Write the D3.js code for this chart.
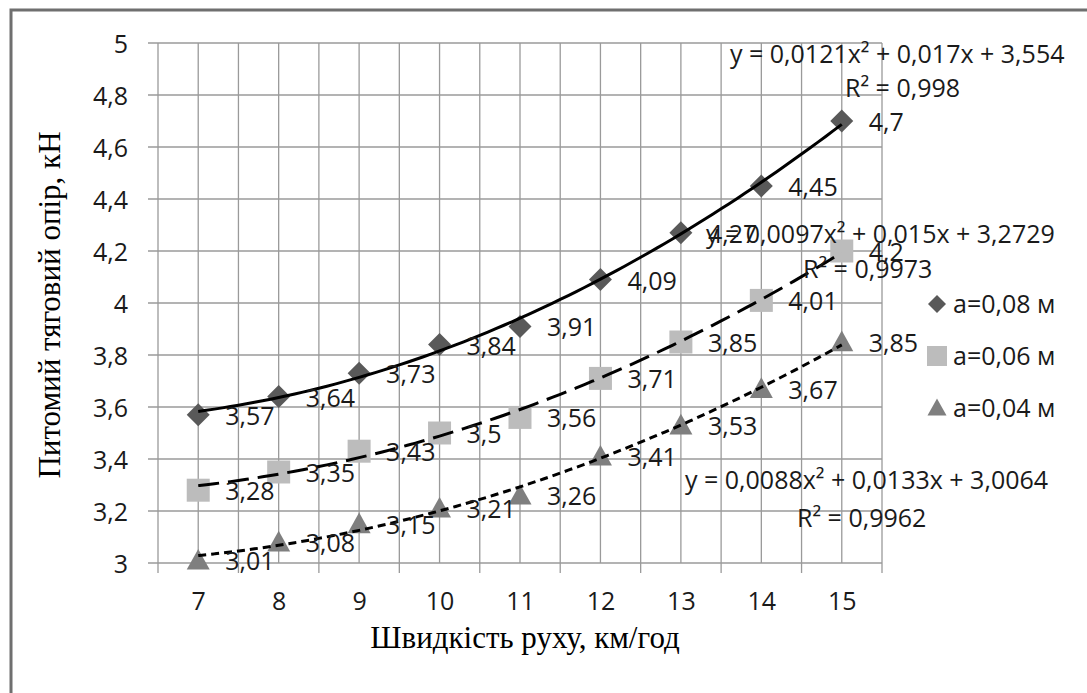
<!DOCTYPE html>
<html>
<head>
<meta charset="utf-8">
<script src="https://cdn.jsdelivr.net/npm/d3@7"></script>
<style>
  html, body { margin: 0; padding: 0; background: #fff; }
  svg { display: block; }
  .lbl { font-family: "Liberation Sans Narrow", "Open Sans", sans-serif; font-size: 25px; fill: #1a1a1a; }
  .ttl { font-family: "Liberation Serif", "Times New Roman", serif; font-size: 31px; fill: #000; }
</style>
</head>
<body>
<svg id="chart" width="1087" height="693"></svg>
<script>
// Speed categories, km/h
const speeds = [7, 8, 9, 10, 11, 12, 13, 14, 15];
// Specific draft resistance, kN, for each working depth
const resist008 = [3.57, 3.64, 3.73, 3.84, 3.91, 4.09, 4.27, 4.45, 4.7];
const resist006 = [3.28, 3.35, 3.43, 3.5, 3.56, 3.71, 3.85, 4.01, 4.2];
const resist004 = [3.01, 3.08, 3.15, 3.21, 3.26, 3.41, 3.53, 3.67, 3.85];
const seriesNames = ["a=0,08 м", "a=0,06 м", "a=0,04 м"];
// Quadratic trend coefficients (x = category index 1..9)
const trend008 = [0.0121, 0.017, 3.554];
const trend006 = [0.0097, 0.015, 3.2729];
const trend004 = [0.0088, 0.0133, 3.0064];
const eqTexts = ["y = 0,0121x² + 0,017x + 3,554", "y = 0,0097x² + 0,015x + 3,2729", "y = 0,0088x² + 0,0133x + 3,0064"];
const r2Texts = ["R² = 0,998", "R² = 0,9973", "R² = 0,9962"];
const yTicks = [3, 3.2, 3.4, 3.6, 3.8, 4, 4.2, 4.4, 4.6, 4.8, 5];

const svg = d3.select("#chart");
const fmt = v => String(v).replace(".", ",");

// outer frame
svg.append("path").attr("d", "M11,693 V10 H1087")
  .attr("fill", "none").attr("stroke", "#6f6f6f").attr("stroke-width", 3);

const x = d3.scaleLinear().domain([6.5, 15.5]).range([158, 882]);
const y = d3.scaleLinear().domain([3, 5]).range([563, 43]);

// gridlines
const grid = svg.append("g");
grid.selectAll("line.h").data(yTicks).join("line")
  .attr("x1", x(6.5) - 10).attr("x2", x(15.5))
  .attr("y1", d => y(d)).attr("y2", d => y(d))
  .attr("stroke", "#9a9a9a").attr("stroke-width", 1.3);
grid.selectAll("line.v").data(d3.range(6.5, 15.6, 0.5)).join("line")
  .attr("x1", d => x(d)).attr("x2", d => x(d))
  .attr("y1", y(5)).attr("y2", d => (d % 1 === 0.5) ? y(3) + 10 : y(3))
  .attr("stroke", "#9a9a9a").attr("stroke-width", 1.3);

// axis tick labels
const yAxis = d3.axisLeft(y).tickValues(yTicks).tickFormat(fmt).tickSize(0).tickPadding(30);
svg.append("g").attr("transform", `translate(${x(6.5)},0)`).call(yAxis)
  .call(g => g.select(".domain").remove())
  .selectAll("text").attr("class", "lbl").attr("dy", "0.36em");
const xAxis = d3.axisBottom(x).tickValues(speeds).tickFormat(d => d).tickSize(0).tickPadding(29);
svg.append("g").attr("transform", `translate(0,${y(3)})`).call(xAxis)
  .call(g => g.select(".domain").remove())
  .selectAll("text").attr("class", "lbl");

// axis titles
svg.append("text").attr("class", "ttl").attr("text-anchor", "middle")
  .attr("transform", `translate(60,305) rotate(-90)`).text("Питомий тяговий опір, кН");
svg.append("text").attr("class", "ttl").attr("text-anchor", "middle")
  .attr("x", 525).attr("y", 648).text("Швидкість руху, км/год");

// marker shapes as in the spreadsheet: square-rotated diamond, square, triangle
const diamond = { draw(ctx, r) { ctx.moveTo(0, -r); ctx.lineTo(r, 0); ctx.lineTo(0, r); ctx.lineTo(-r, 0); ctx.closePath(); } };
const square = { draw(ctx, r) { ctx.rect(-r, -r, 2 * r, 2 * r); } };
const triangle = { draw(ctx, r) { ctx.moveTo(0, -r); ctx.lineTo(r, r * 0.8); ctx.lineTo(-r, r * 0.8); ctx.closePath(); } };

const series = [
  { vals: resist008, trend: trend008, fill: "#595959", shape: diamond, size: 11.5, legSize: 9, dash: null },
  { vals: resist006, trend: trend006, fill: "#bcbcbc", shape: square, size: 11.5, legSize: 10, dash: "21,9" },
  { vals: resist004, trend: trend004, fill: "#7f7f7f", shape: triangle, size: 11.5, legSize: 9.5, dash: "8,5" }
];

// markers
series.forEach(s => {
  svg.append("g").selectAll("path").data(s.vals).join("path")
    .attr("d", d3.symbol(s.shape, s.size))
    .attr("transform", (d, i) => `translate(${x(speeds[i])},${y(d)})`)
    .attr("fill", s.fill);
});

// trendlines
series.forEach(s => {
  const pts = d3.range(1, 9.001, 0.1).map(t => [t + 6, s.trend[0] * t * t + s.trend[1] * t + s.trend[2]]);
  svg.append("path").datum(pts)
    .attr("d", d3.line().x(d => x(d[0])).y(d => y(d[1])).curve(d3.curveBasis))
    .attr("fill", "none").attr("stroke", "#000").attr("stroke-width", 3)
    .attr("stroke-dasharray", s.dash);
});

// data labels
series.forEach(s => {
  svg.append("g").selectAll("text").data(s.vals).join("text")
    .attr("class", "lbl")
    .attr("x", (d, i) => x(speeds[i]) + 27)
    .attr("y", d => y(d) + 10)
    .text(fmt);
});

// trend equations
const eqPos = [[730, 63, 845, 97], [706, 243, 803, 278], [685, 489, 797, 527]];
eqTexts.forEach((t, i) => {
  svg.append("text").attr("class", "lbl").attr("x", eqPos[i][0]).attr("y", eqPos[i][1]).text(t);
  svg.append("text").attr("class", "lbl").attr("x", eqPos[i][2]).attr("y", eqPos[i][3]).text(r2Texts[i]);
});

// legend
const legY = [304, 356, 408];
series.forEach((s, i) => {
  svg.append("path").attr("d", d3.symbol(s.shape, s.legSize))
    .attr("transform", `translate(937,${legY[i]})`).attr("fill", s.fill);
  svg.append("text").attr("class", "lbl").attr("x", 953).attr("y", legY[i] + 9).text(seriesNames[i]);
});
</script>
</body>
</html>
